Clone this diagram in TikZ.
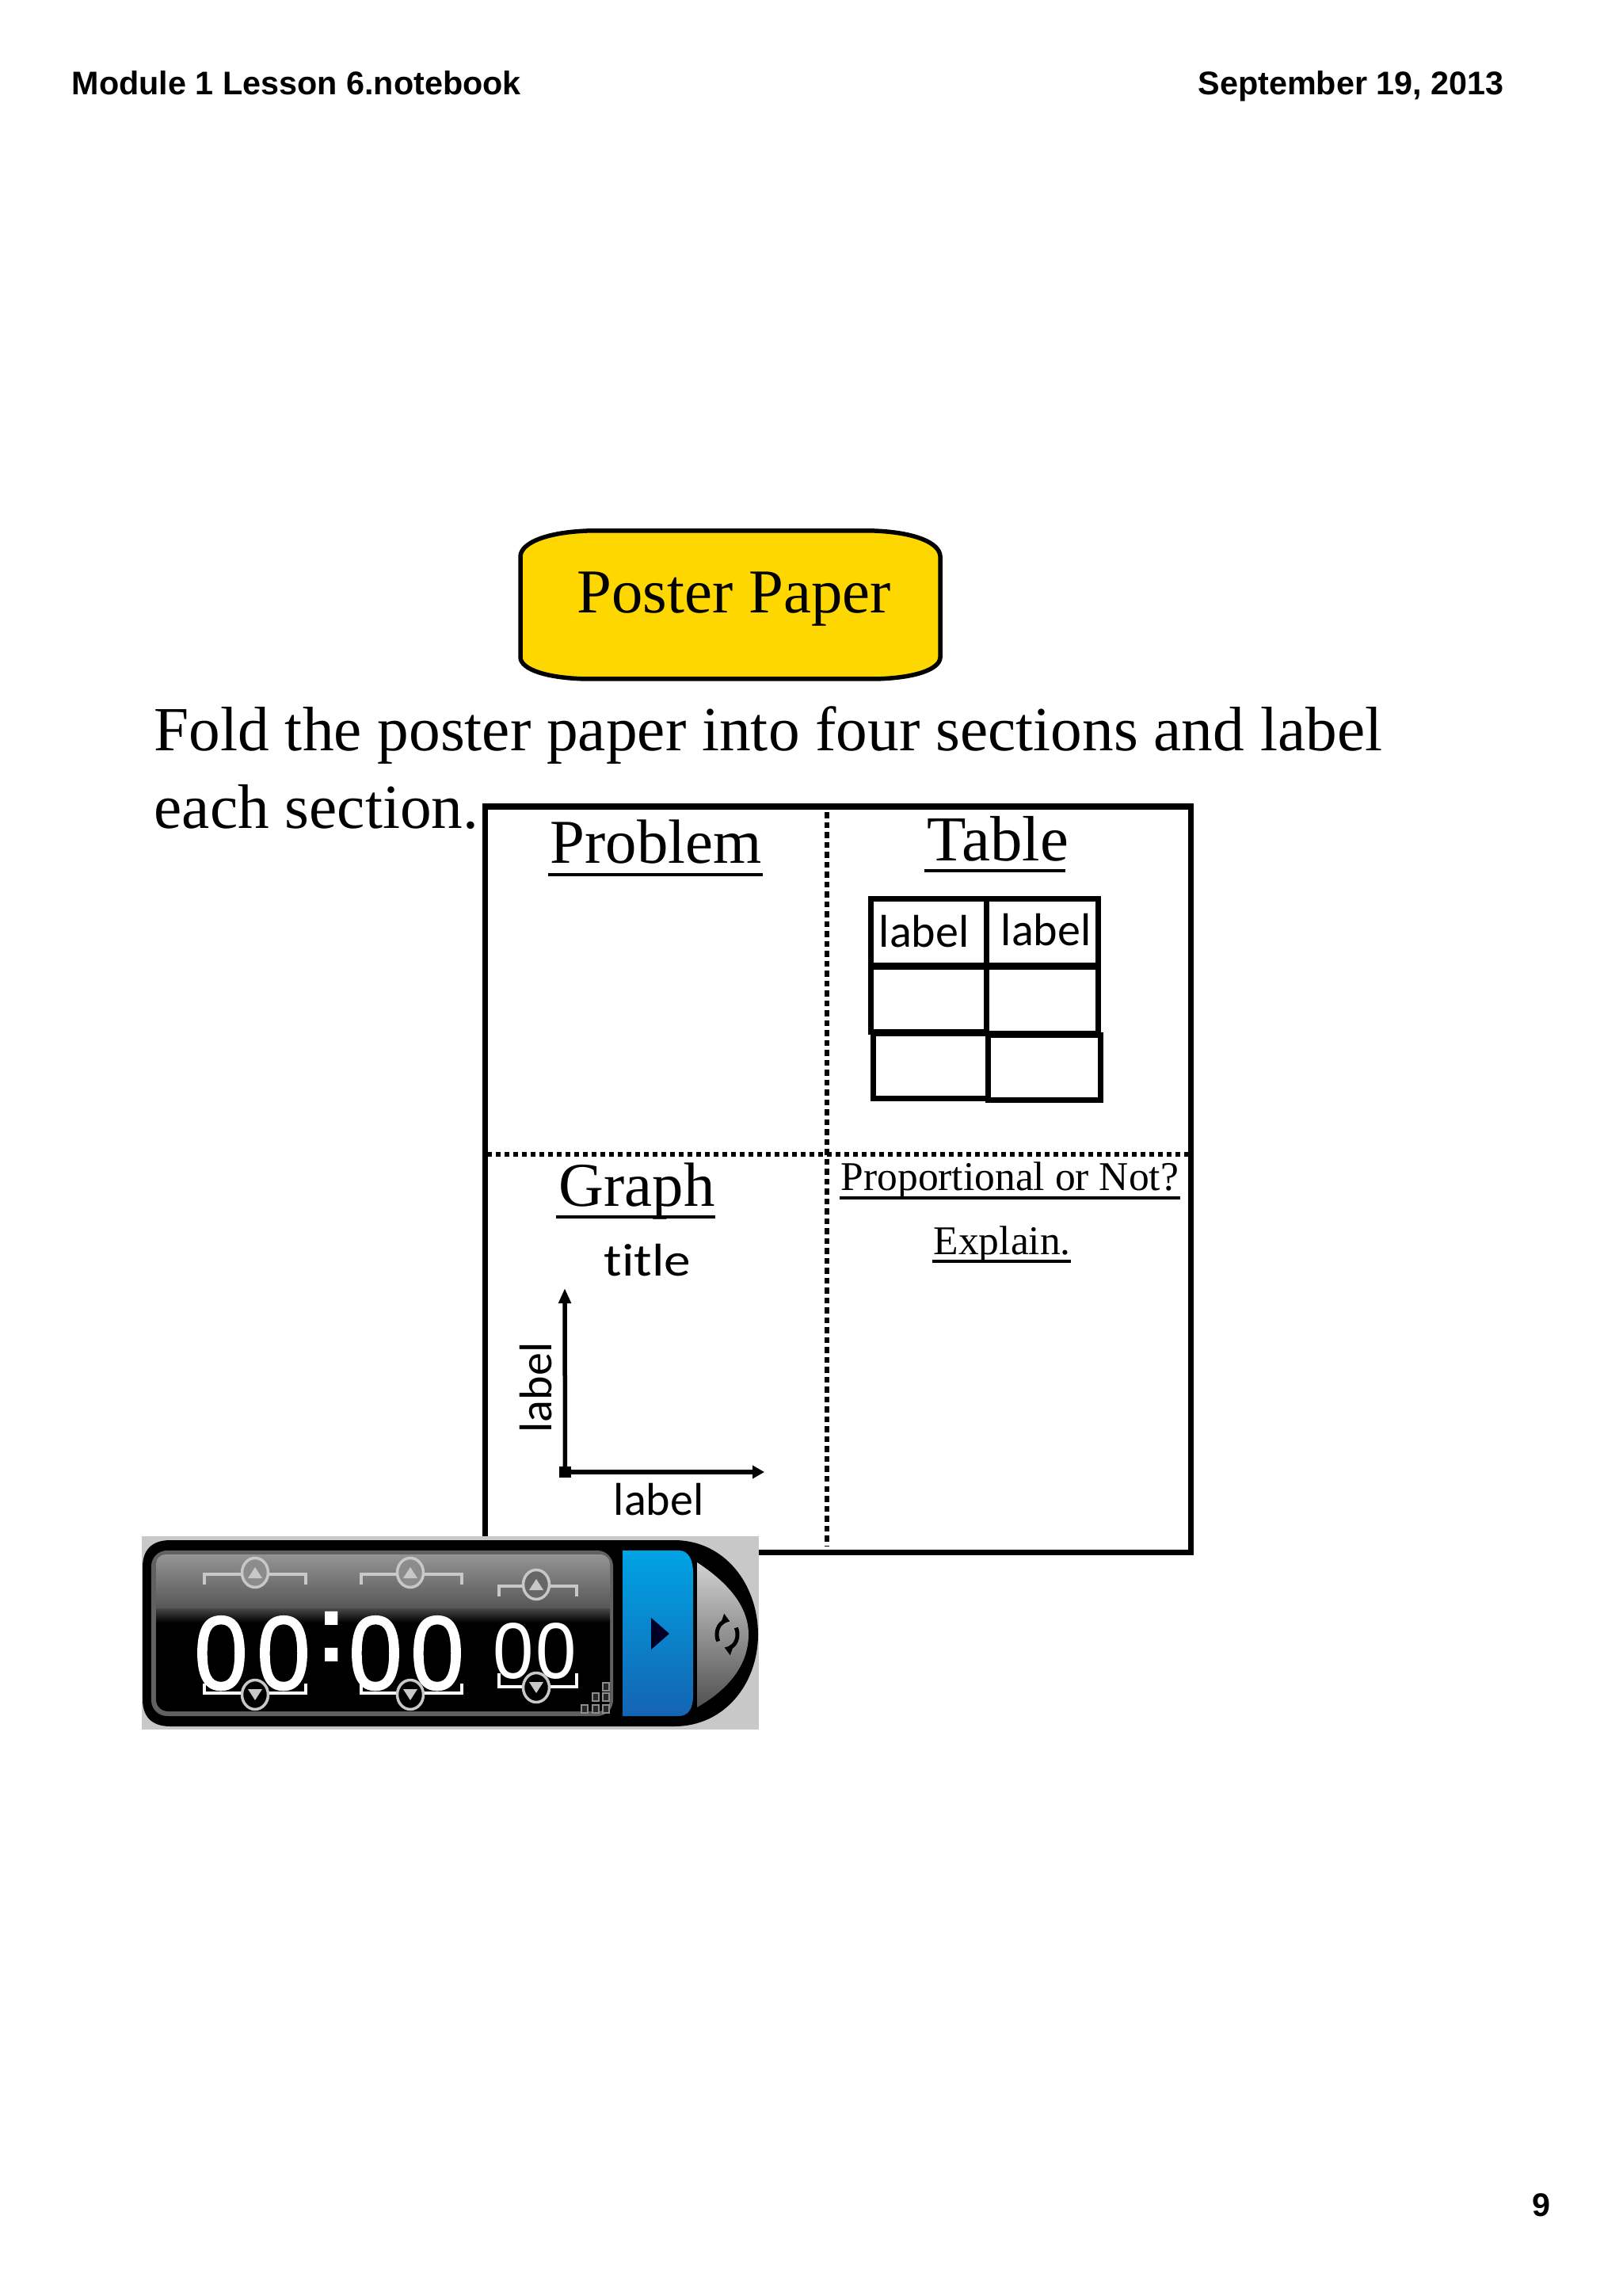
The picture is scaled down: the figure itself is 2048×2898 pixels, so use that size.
\documentclass[tikz,border=0pt]{standalone}
\usepackage{fontspec}
\setmainfont{Liberation Serif}
\newfontfamily\headfont{Liberation Sans}
\newfontfamily\handfont[Ligatures=NoCommon]{Carlito}
\newfontfamily\timerfont[FakeBold=1.5]{Liberation Sans}
\usetikzlibrary{arrows.meta}
\definecolor{posteryellow}{HTML}{FFD700}
\definecolor{timerback}{HTML}{C8C8C8}
\definecolor{knobgray}{HTML}{C8C8C8}
\definecolor{bluetop}{HTML}{00A3E4}
\definecolor{bluemid}{HTML}{0A86CC}
\definecolor{bluelow}{HTML}{1464B2}
\tikzset{
  pagetext/.style={anchor=base west,inner sep=0pt,font=\headfont\bfseries\fontsize{11.75}{14}\selectfont},
  bigserif/.style={anchor=base west,inner sep=0pt,font=\fontsize{22.4}{26}\selectfont},
  bodyserif/.style={anchor=base west,inner sep=0pt,font=\fontsize{22.55}{26}\selectfont},
  smallserif/.style={anchor=base west,inner sep=0pt,font=\fontsize{14.65}{17}\selectfont},
  handtext/.style={anchor=base west,inner sep=0pt,font=\handfont\fontsize{16.5}{20}\selectfont},
  gridcell/.style={line width=0.07cm},
  headrule/.style={line width=0.042cm},
  bigzero/.style={anchor=base,inner sep=0pt,text=white,xscale=0.92,font=\timerfont\fontsize{37.5}{40}\selectfont},
  smallzero/.style={anchor=base,inner sep=0pt,text=white,xscale=0.92,font=\headfont\fontsize{28.5}{30}\selectfont},
  knobline/.style={draw=knobgray,line width=0.035cm}
}
% one spinner of the timer: x, y of the knob, flip of its triangle, fill of the knob
\newcommand{\timerknob}[4]{
  \draw[knobline,fill=#4] (#1,#2) ellipse (16.5 and 18.5);
  \fill[knobgray,shift={(#1,#2)},yscale=#3] (-9,7) -- (9,7) -- (0,-7) -- cycle;
}
\begin{document}
\begin{tikzpicture}[x=0.01cm,y=-0.01cm]
  \useasboundingbox (0,0) rectangle (2048,2898);
  \fill[white] (0,0) rectangle (2048,2898);
  % page header and number
  \node[pagetext] (module) at (90,120) {Module 1 Lesson 6.notebook};
  \node[pagetext] (date) at (1512,120) {September 19, 2013};
  \node[pagetext] (pagenum) at (1934,2797) {9};
  % yellow title box
  \draw[line width=0.055cm,fill=posteryellow] (741,670) -- (1104,670)
    .. controls (1155,672) and (1186,685) .. (1187,702) -- (1187,830)
    .. controls (1186,845) and (1155,856) .. (1104,857) -- (741,857)
    .. controls (690,856) and (658,845) .. (657,830) -- (657,702)
    .. controls (658,685) and (690,672) .. (741,670) -- cycle;
  \node[bigserif] (poster) at (728,774) {Poster Paper};
  \node[bodyserif] (fold) at (194,948) {Fold the poster paper into four sections and label};
  \node[bodyserif] (each) at (194,1045) {each section.};
  % folded sheet
  \draw[line width=0.07cm] (612,1018) rectangle (1503,1959);
  \draw[line width=0.06cm,dash pattern=on 0.075cm off 0.05cm] (1044,1025) -- (1044,1951);
  \draw[line width=0.06cm,dash pattern=on 0.055cm off 0.055cm] (615,1457) -- (1500,1457);
  % section titles
  \node[bigserif] (problem) at (694,1089) {Problem};
  \draw[headrule] (692,1104) -- (963,1104);
  \node[bigserif,font=\fontsize{23}{26}\selectfont] (table) at (1170,1086) {Table};
  \draw[headrule] (1167,1099) -- (1345,1099);
  \node[bigserif] (graph) at (705,1522) {Graph};
  \draw[headrule] (702,1536) -- (903,1536);
  \node[smallserif] (prop) at (1061,1502) {Proportional or Not?};
  \draw[line width=0.035cm] (1060,1512) -- (1490,1512);
  \node[smallserif] (explain) at (1178,1583) {Explain.};
  \draw[line width=0.035cm] (1177,1592) -- (1352,1592);
  % little table
  \draw[gridcell] (1099,1134) rectangle (1245,1218);
  \draw[gridcell] (1245,1134) rectangle (1386,1218);
  \draw[gridcell] (1099,1220) rectangle (1245,1302);
  \draw[gridcell] (1245,1220) rectangle (1386,1304);
  \draw[gridcell] (1102,1304) rectangle (1247,1386);
  \draw[gridcell] (1247,1306) rectangle (1389,1388);
  \node[handtext] (labela) at (1109,1195) {label};
  \node[handtext] (labelb) at (1263,1193) {label};
  % little graph
  \node[fill=black,inner sep=0pt,minimum width=0.15cm,minimum height=0.14cm] (origin) at (713.5,1858) {};
  \coordinate (ytop) at (713,1626);
  \coordinate (xend) at (965,1858);
  \draw[line width=0.055cm,-{Triangle[length=0.19cm,width=0.15cm]}] (origin.center) -- (ytop);
  \draw[line width=0.06cm,-{Triangle[length=0.15cm,width=0.16cm]}] (origin.center) -- (xend);
  \node[handtext,xscale=1.16] (title) at (762,1610) {title};
  \node[handtext,rotate=90] (labely) at (696,1809) {label};
  \node[handtext] (labelx) at (774,1912) {label};
  % timer
  \fill[timerback] (179,1939) rectangle (958,2183);
  \fill[black] (215,1944) -- (851,1944) .. controls (915,1944) and (957,2000) .. (957,2063)
    .. controls (957,2125) and (915,2179) .. (851,2179) -- (215,2179)
    .. controls (190,2179) and (180,2165) .. (180,2145) -- (180,1978)
    .. controls (180,1958) and (190,1944) .. (215,1944) -- cycle;
  \fill[black!62,rounded corners=0.2cm] (191,1957) rectangle (774,2166);
  \fill[black,rounded corners=0.15cm] (197,2030) rectangle (770,2160);
  \shade[top color=black!42,bottom color=black!72,rounded corners=0.12cm] (197,1962) rectangle (770,2047);
  \shade[top color=black!72,bottom color=black] (197,2030) rectangle (770,2048);
  \shade[top color=black!18,bottom color=black!68] (880,1972) .. controls (915,1995) and (945,2025) .. (945,2063)
    .. controls (945,2105) and (915,2135) .. (880,2155) -- cycle;
  \shade[top color=bluetop,middle color=bluemid,bottom color=bluelow] (786,1957) -- (857,1957)
    .. controls (870,1957) and (875,1970) .. (875,1985) -- (875,2140)
    .. controls (875,2155) and (870,2166) .. (857,2166) -- (786,2166) -- cycle;
  \fill[black!85!blue] (822,2042) -- (845,2062) -- (822,2082) -- cycle;
  % reset arrows
  \draw[line width=0.05cm,black,-{Triangle[length=0.1cm,width=0.13cm]}] (918,2063) ++(150:13 and 17) arc[start angle=150,end angle=285,x radius=13,y radius=17];
  \draw[line width=0.05cm,black,-{Triangle[length=0.1cm,width=0.13cm]}] (918,2063) ++(-30:13 and 17) arc[start angle=-30,end angle=105,x radius=13,y radius=17];
  % digits
  \node[bigzero] (mina) at (279,2132) {0};
  \node[bigzero] (minb) at (358,2132) {0};
  \node[bigzero,xscale=1,font=\headfont\bfseries\fontsize{35.6}{38}\selectfont] (colon) at (419,2097) {:};
  \node[bigzero] (seca) at (474,2132) {0};
  \node[bigzero] (secb) at (552,2132) {0};
  \node[smallzero] (hunda) at (648,2118) {0};
  \node[smallzero] (hundb) at (702,2118) {0};
  % spinner brackets
  \draw[knobline] (258,2000) -- (258,1987) -- (386,1987) -- (386,2000);
  \draw[knobline] (456,2000) -- (456,1987) -- (583,1987) -- (583,2000);
  \draw[knobline] (630,2015) -- (630,2002) -- (728,2002) -- (728,2015);
  \draw[white,line width=0.035cm] (258,2125) -- (258,2137) -- (386,2137) -- (386,2125);
  \draw[white,line width=0.035cm] (456,2125) -- (456,2137) -- (583,2137) -- (583,2125);
  \draw[white,line width=0.035cm] (630,2112) -- (630,2129) -- (728,2129) -- (728,2112);
  \timerknob{322}{1985}{1}{black!45}
  \timerknob{518}{1985}{1}{black!45}
  \timerknob{677}{2000}{1}{black!60}
  \timerknob{322}{2139}{-1}{black}
  \timerknob{518}{2139}{-1}{black}
  \timerknob{677}{2130}{-1}{black}
  % resize dots
  \foreach \dotx/\doty in {765/2129,765/2142,752/2142,765/2157,752/2157,738/2157}
    \draw[black!45,line width=0.025cm,fill=black!85] (\dotx-4,\doty-5) rectangle (\dotx+4,\doty+5);
\end{tikzpicture}
\end{document}
